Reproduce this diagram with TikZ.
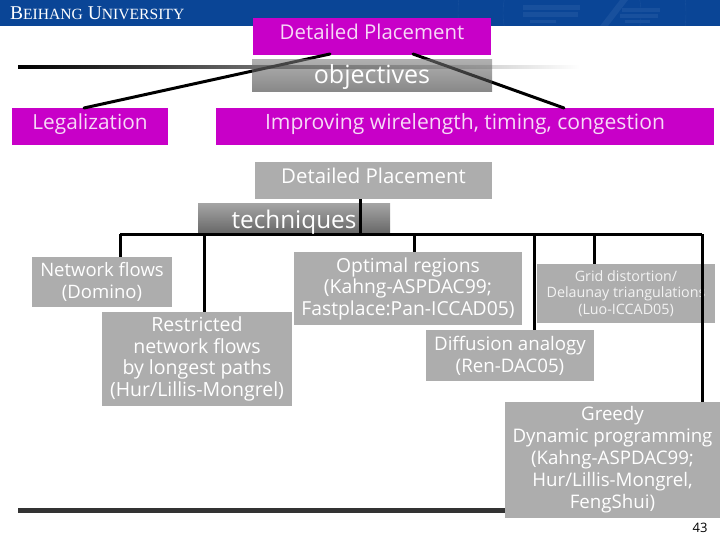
\documentclass[tikz,border=0pt]{standalone}
\usepackage{fontspec}
\setmainfont{Open Sans}
\newfontfamily\capsfont{Liberation Serif}
\definecolor{bandblue}{HTML}{0A4596}
\definecolor{ringblue}{HTML}{18509D}
\definecolor{boxpurple}{HTML}{C800C8}
\definecolor{boxgray}{HTML}{ADADAD}
\definecolor{objtop}{HTML}{7A7A7A}
\definecolor{objbottom}{HTML}{383838}
\definecolor{techtop}{HTML}{666666}
\definecolor{techbottom}{HTML}{000000}
\tikzset{
	purplebox/.style={fill=boxpurple,text=white!85!boxpurple,inner sep=0pt,align=center,text height=15pt,text depth=9.4pt},
	graybox/.style={fill=boxgray,text=white,inner sep=0pt,align=center},
	titlebar/.style 2 args={top color=#1,bottom color=#2,fill opacity=.6,text opacity=1,text=white,inner sep=0pt,text depth=4pt},
	busline/.style={line width=3pt,black},
	tiltline/.style={line width=3pt,black,line cap=round}
}
\newcommand{\fsize}[2]{\fontsize{#1}{#2}\selectfont}
\begin{document}
\begin{tikzpicture}[x=1pt,y=-1pt]
\useasboundingbox (0,0) rectangle (720,540);

% header band
\fill[bandblue] (0,0) rectangle (720,26);
\begin{scope}
	\clip (0,0) rectangle (720,26);
	\draw[ringblue] (572,13) circle (114);
	\draw[ringblue] (572,13) circle (69);
	\foreach \barl/\bart/\barr/\barb in {523/5/580/10,523/12/578/17,530/20/556/23,622/8/660/12,620/14/658/18,625/20/650/23}
		{\fill[ringblue] (\barl,\bart) rectangle (\barr,\barb);
		};
	\fill[ringblue] (620,0) -- (628,0) -- (608,26) -- (600,26) -- cycle;
\end{scope}
\node[anchor=west,text=white,inner sep=0pt,font=\capsfont\fsize{19.5}{19.5}] (school) at (10,13) {B\scalebox{.8}{EIHANG} U\scalebox{.8}{NIVERSITY}};

% footer rule and the top fading rule
\fill[black!80] (18,508) rectangle (510,513);
\shade[left color=black,right color=white] (18,66) rectangle (580,69);

% objectives
\node[purplebox,minimum width=238pt,minimum height=37pt,font=\fsize{20.4}{20.4}] (plantop) at (372,36.5) {Detailed Placement};
\node[purplebox,minimum width=156pt,minimum height=37pt,font=\fsize{20.8}{20.8}] (legal) at (90,126.5) {Legalization};
\node[purplebox,minimum width=498pt,minimum height=37pt,font=\fsize{21.1}{21.1}] (improve) at (465,126.5) {Improving wirelength, timing, congestion};
\coordinate (plantopl) at (330,54);
\coordinate (plantopr) at (413,54);
\coordinate (legaltop) at (84,108);
\coordinate (improvetop) at (564,108);
\draw[tiltline] (plantopl) -- (legaltop);
\draw[tiltline] (plantopr) -- (improvetop);
\node[titlebar={objtop}{objbottom},minimum width=240pt,minimum height=32pt,text height=20pt,font=\fsize{25}{25}] (objbar) at (372,76) {objectives};

% techniques
\node[graybox,text height=15pt,text depth=9.4pt,minimum width=237pt,minimum height=37pt,font=\fsize{20.4}{20.4}] (planlow) at (373.5,180.5) {Detailed Placement};
\coordinate (busl) at (120,234);
\coordinate (busr) at (702,234);
\draw[busline] (busl) -- (busr);
\node[titlebar={techtop}{techbottom},minimum width=192pt,minimum height=30pt,text height=22.6pt,font=\fsize{24.3}{24.3}] (techbar) at (294,219) {techniques};
\draw[busline] (planlow.south -| 360,0) -- (360,234);

\node[graybox,minimum width=140pt,minimum height=50pt,font=\fsize{18.5}{21.5}] (domino) at (102,282) {Network flows\\(Domino)};
\node[graybox,minimum width=190pt,minimum height=94pt,font=\fsize{19.5}{21.5}] (restrict) at (197,359) {Restricted\\network flows\\by longest paths\\(Hur/Lillis-Mongrel)};
\node[graybox,minimum width=228pt,minimum height=73pt,font=\fsize{19.3}{21.5}] (optimal) at (408,288.5) {Optimal regions\\(Kahng-ASPDAC99;\\Fastplace:Pan-ICCAD05)};
\node[graybox,minimum width=178pt,minimum height=59pt,text=white!85!boxgray,font=\fsize{14.3}{16.8}] (grid) at (626,293.5) {Grid distortion/\\Delaunay triangulations\\(Luo-ICCAD05)};
\node[graybox,minimum width=168pt,minimum height=51pt,font=\fsize{18.7}{22}] (diffuse) at (510,355.5) {Diffusion analogy\\(Ren-DAC05)};
\node[graybox,minimum width=215pt,minimum height=116pt,font=\fsize{18.7}{22}] (greedy) at (612.5,460) {Greedy\\Dynamic programming\\(Kahng-ASPDAC99;\\Hur/Lillis-Mongrel,\\FengShui)};

% drops of the bus
\draw[busline] (busl) -- (domino.north -| busl);
\foreach \dropx/\dropbox in {204/restrict,414/optimal,534/diffuse,594/grid,702/greedy}
	{\draw[busline] (\dropx,234) -- (\dropbox.north -| \dropx,0);
	};

\node[inner sep=0pt,font=\fsize{13}{13}] (pagenum) at (700,528) {43};
\end{tikzpicture}
\end{document}
